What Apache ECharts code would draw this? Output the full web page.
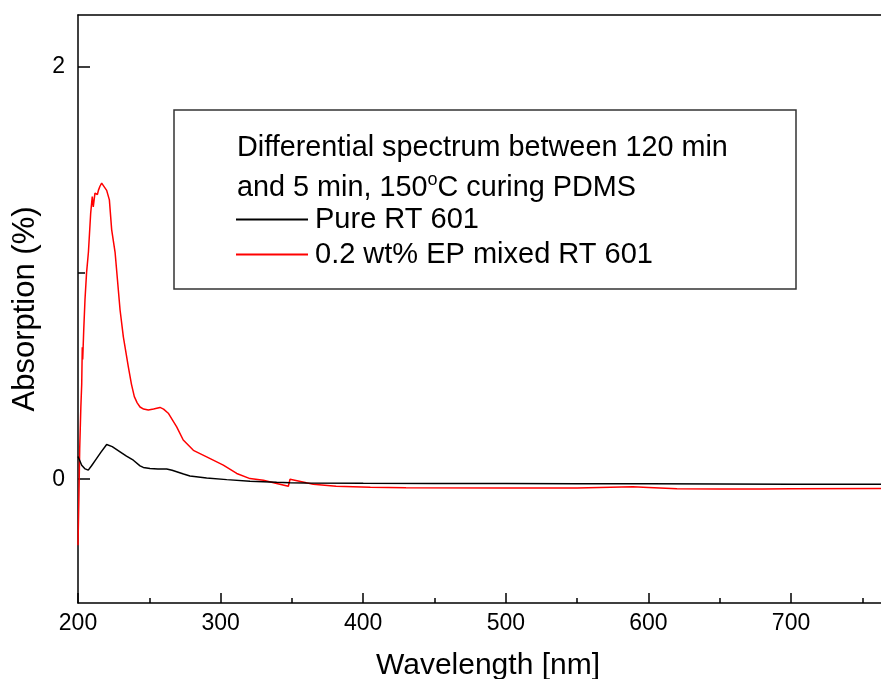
<!DOCTYPE html>
<html>
<head>
<meta charset="utf-8">
<script src="https://cdn.jsdelivr.net/npm/echarts@6/dist/echarts.min.js"></script>
<style>
html,body{margin:0;padding:0;background:#fff;}
#chart{width:881px;height:679px;}
</style>
</head>
<body>
<div id="chart"></div>
<script>
// ---- data ----
const seriesNames = ["Pure RT 601", "0.2 wt% EP mixed RT 601"];
const headingLines = ["Differential spectrum between 120 min", "and 5 min, 150", "o", "C curing PDMS"];
const xTickLabels = [200, 300, 400, 500, 600, 700];
const yTickLabels = [0, 2];
const yMinorTicks = [1];

const blackX = [200, 201, 202.6, 205, 207.2, 209.5, 212, 216, 220.1, 224, 229.5, 234, 238.8, 243.5, 245.8, 250.5, 256, 262.2, 266, 269.2, 274, 278.5, 290.2, 304.3, 320.6, 339.3, 348.7, 360, 400, 450, 500, 550, 600, 650, 700, 775];
const blackY = [0.11, 0.108, 0.068, 0.05, 0.044, 0.065, 0.09, 0.13, 0.168, 0.158, 0.133, 0.112, 0.092, 0.065, 0.057, 0.052, 0.049, 0.049, 0.043, 0.036, 0.025, 0.016, 0.006, -0.002, -0.01, -0.015, -0.017, -0.018, -0.02, -0.021, -0.021, -0.022, -0.022, -0.023, -0.024, -0.024];

const redX = [200, 200.6, 201.2, 202, 202.6, 203, 203.3, 204, 204.9, 206, 207.3, 208.9, 210, 210.7, 211.9, 213.6, 214.3, 215.4, 216.6, 217.8, 220.1, 222, 223.6, 226, 229.5, 231.8, 235.3, 237.5, 239.5, 241.5, 243.5, 246, 249.3, 253, 257.5, 260, 263.3, 269.2, 273.8, 280.9, 290.2, 301.9, 311.3, 320.6, 330, 339.3, 347.5, 348.7, 350, 365, 381, 405, 430, 500, 550, 589, 600, 620, 650, 680, 700, 775];
const redY = [-0.32, -0.1, 0.15, 0.35, 0.46, 0.64, 0.58, 0.72, 0.87, 1.0, 1.10, 1.29, 1.37, 1.32, 1.387, 1.38, 1.40, 1.42, 1.435, 1.435, 1.40, 1.354, 1.21, 1.10, 0.82, 0.69, 0.545, 0.46, 0.40, 0.37, 0.35, 0.34, 0.335, 0.34, 0.348, 0.34, 0.32, 0.254, 0.19, 0.14, 0.108, 0.068, 0.028, 0.003, -0.005, -0.021, -0.034, 0.0, -0.003, -0.024, -0.034, -0.039, -0.041, -0.042, -0.043, -0.037, -0.04, -0.046, -0.048, -0.048, -0.046, -0.045];

const pair = (xs, ys) => xs.map((x, i) => [x, ys[i]]);

const chart = echarts.init(document.getElementById('chart'), null, {renderer: 'canvas'});
const FONT = 'Liberation Sans, Arial, sans-serif';
const AX = {color: '#000', width: 1.5};

const option = {
  backgroundColor: '#fff',
  animation: false,
  grid: {left: 78, top: 15, bottom: 76, right: -17, show: false, outerBoundsMode: 'none', containLabel: false},
  xAxis: [{
    type: 'value', min: 200, max: 775, interval: 100,
    name: 'Wavelength [nm]', nameLocation: 'middle', nameGap: 48,
    nameTextStyle: {fontFamily: FONT, fontSize: 30, color: '#000'},
    axisLine: {onZero: false, lineStyle: AX},
    axisTick: {inside: true, length: 10, lineStyle: AX},
    minorTick: {show: true, splitNumber: 2, length: 5, lineStyle: AX},
    axisLabel: {customValues: xTickLabels, margin: 9, fontFamily: FONT, fontSize: 23, color: '#000'},
    splitLine: {show: false}, minorSplitLine: {show: false}
  }, {
    type: 'value', min: 200, max: 775, position: 'top',
    axisLine: {onZero: false, lineStyle: AX},
    axisTick: {show: false}, axisLabel: {show: false}, splitLine: {show: false}
  }],
  yAxis: [{
    type: 'value', min: -0.6, max: 2.25,
    name: 'Absorption (%)', nameLocation: 'middle', nameGap: 36,
    nameTextStyle: {fontFamily: FONT, fontSize: 31, color: '#000'},
    axisLine: {onZero: false, lineStyle: AX},
    axisTick: {inside: true, length: 12, customValues: yTickLabels, lineStyle: AX},
    axisLabel: {customValues: yTickLabels, margin: 13, fontFamily: FONT, fontSize: 23, color: '#000'},
    splitLine: {show: false}
  }, {
    type: 'value', min: -0.6, max: 2.25, position: 'left',
    axisLine: {show: false},
    axisTick: {inside: true, length: 7, customValues: yMinorTicks, lineStyle: AX},
    axisLabel: {show: false},
    splitLine: {show: false}
  }],
  legend: {
    left: 236, top: 205, padding: 0, orient: 'vertical',
    icon: 'rect', itemWidth: 72, itemHeight: 2, itemGap: 6,
    textStyle: {fontFamily: FONT, fontSize: 29, color: '#000', padding: [0, 0, 0, 2]},
    data: seriesNames
  },
  graphic: [
    {type: 'rect', shape: {x: 174, y: 110, width: 622, height: 179}, style: {fill: 'transparent', stroke: '#333', lineWidth: 1.5}, z: 10},
    {type: 'text', x: 237, y: 148, z: 11, style: {text: headingLines[0], font: '28.8px ' + FONT, fill: '#000', verticalAlign: 'middle'}},
    {type: 'text', x: 237, y: 188, z: 11, style: {
      text: '{n|' + headingLines[1] + '}{s|' + headingLines[2] + '}{n|' + headingLines[3] + '}',
      verticalAlign: 'middle',
      rich: {
        n: {fontFamily: FONT, fontSize: 28.8, fill: '#000', lineHeight: 34},
        s: {fontFamily: FONT, fontSize: 18, fill: '#000', verticalAlign: 'top', lineHeight: 34, padding: [0, 0, 14, 0]}
      }
    }}
  ],
  series: [
    {name: seriesNames[0], type: 'line', data: pair(blackX, blackY), showSymbol: false, symbol: 'none', lineStyle: {color: '#000', width: 1.5}, itemStyle: {color: '#000'}, z: 3},
    {name: seriesNames[1], type: 'line', data: pair(redX, redY), showSymbol: false, symbol: 'none', lineStyle: {color: '#ff0000', width: 1.5}, itemStyle: {color: '#ff0000'}, z: 2}
  ]
};
chart.setOption(option);
</script>
</body>
</html>
